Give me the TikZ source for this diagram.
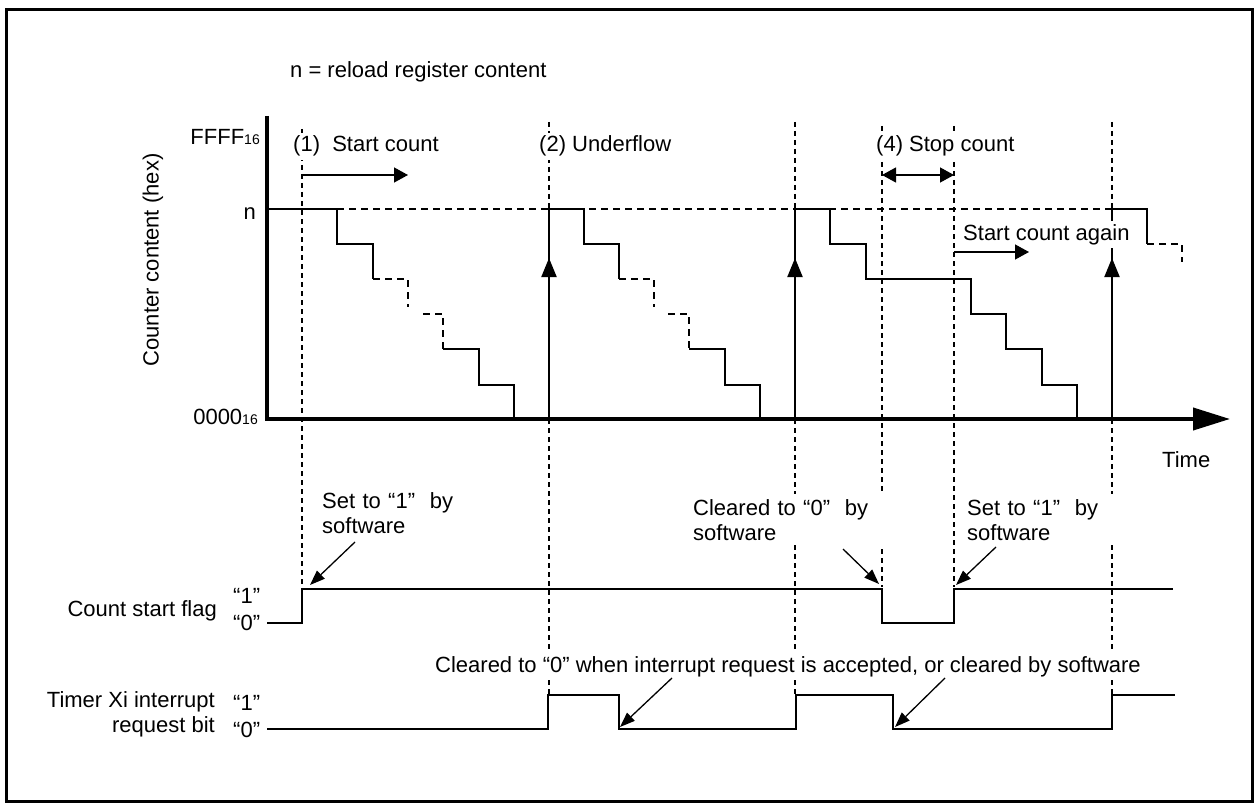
\documentclass[tikz,border=0pt]{standalone}
\usepackage{fontspec}
\setmainfont{Liberation Sans}
\usetikzlibrary{arrows.meta}

\newcommand{\hexsub}{{\fontsize{14}{14}\selectfont 16}}

\begin{document}
\begin{tikzpicture}[
    x=1pt, y=-1pt,
    font=\fontsize{22}{25}\selectfont,
    txt/.style={inner sep=0pt},
    label/.style={fill=white, inner xsep=1pt, inner ysep=3pt},
    note/.style={fill=white, align=left, inner xsep=2pt, inner ysep=5pt},
    guide/.style={line width=1.2pt, dash pattern=on 5pt off 4pt},
    wave/.style={line width=2pt},
    wavedash/.style={line width=2pt, dash pattern=on 7pt off 5pt},
    axis/.style={line width=4pt, -{Triangle[length=37pt,width=22pt]}},
    uparr/.style={line width=2pt, -{Triangle[length=19pt,width=15pt]}},
    spanarr/.style={line width=1.3pt, -{Triangle[length=14pt,width=15pt]}},
    callarr/.style={line width=1.3pt, -{Triangle[length=15pt,width=11pt]}},
]

% Frame
\useasboundingbox (0,0) rectangle (1257,805);
\draw[line width=3pt] (6,10) rectangle (1252,801);

% Event guides
\foreach \gx/\gt/\gb in {302/129/587, 549/122/695, 795/122/695, 882/126/587, 954/126/587, 1112/122/695}
    \draw[guide] (\gx,\gt) -- (\gx,\gb);

% Reload level
\draw[line width=1.3pt, dash pattern=on 7pt off 5pt] (337,209) -- (1112,209);

% Axes
\draw[axis] (267,116) -- (267,419) -- (1230,419);

% Count from n, first period
\draw[wave] (267,209) -- (337,209) -- (337,244) -- (373,244) -- (373,279);
\draw[wavedash] (373,279) -- (408,279) -- (408,307);
\draw[wavedash] (423,314) -- (443,314) -- (443,349);
\draw[wave] (443,349) -- (479,349) -- (479,385) -- (514,385) -- (514,419);

% Underflow -> reload, second period
\draw[uparr] (549,419) -- (549,258);
\draw[wave] (549,262) -- (549,209) -- (584,209) -- (584,244) -- (619,244) -- (619,279);
\draw[wavedash] (619,279) -- (654,279) -- (654,307);
\draw[wavedash] (668,314) -- (689,314) -- (689,349);
\draw[wave] (689,349) -- (725,349) -- (725,385) -- (760,385) -- (760,419);

% Underflow -> reload, stop and restart
\draw[uparr] (795,419) -- (795,258);
\draw[wave] (795,262) -- (795,209) -- (830,209) -- (830,244) -- (866,244) -- (866,279)
    -- (971,279) -- (971,314) -- (1006,314) -- (1006,349) -- (1042,349) -- (1042,385)
    -- (1077,385) -- (1077,419);

% Underflow -> reload, last period
\draw[uparr] (1112,419) -- (1112,258);
\draw[wave] (1112,262) -- (1112,209) -- (1147,209) -- (1147,244);
\draw[wavedash] (1147,244) -- (1182,244) -- (1182,262);

% Count start flag
\draw[wave] (267,623) -- (302,623) -- (302,589) -- (882,589) -- (882,623) -- (954,623)
    -- (954,589) -- (1173,589);

% Interrupt request bit
\draw[wave] (267,729) -- (548,729) -- (548,695) -- (619,695) -- (619,729) -- (796,729)
    -- (796,695) -- (893,695) -- (893,729) -- (1112,729) -- (1112,695) -- (1175,695);

% Axis labels
\node[txt, anchor=base west] (reload) at (290,78) {n = reload register content};
\node[txt, anchor=base east] (ffff) at (260,145) {FFFF\hexsub};
\node[txt, anchor=base east] (nlevel) at (256,219) {n};
\node[txt, anchor=base east] (zero) at (258,424) {0000\hexsub};
\node[txt, rotate=90] (ylab) at (153,260) {Counter content (hex)};
\node[txt, anchor=base west] (time) at (1162,467) {Time};

% Events
\node[label, anchor=base west] (start) at (292,152) {(1)\ \ Start count};
\node[label, anchor=base west] (uflow) at (538,152) {(2) Underflow};
\node[label, anchor=base west] (stop) at (875,152) {(4) Stop count};
\node[label, anchor=base west] (again) at (962,240) {Start count again};

\coordinate (run0) at (302,175);
\coordinate (run1) at (408,175);
\coordinate (halt0) at (882,175);
\coordinate (halt1) at (954,175);
\coordinate (rerun0) at (954,252);
\coordinate (rerun1) at (1029,252);
\draw[spanarr] (run0) -- (run1);
\draw[spanarr, {Triangle[length=14pt,width=15pt]}-{Triangle[length=14pt,width=15pt]}] (halt0) -- (halt1);
\draw[spanarr] (rerun0) -- (rerun1);

% Signal names
\node[txt, anchor=base east] (flagname) at (217,616) {Count start flag};
\node[txt, anchor=base west] (flag1) at (233,603) {“1”};
\node[txt, anchor=base west] (flag0) at (233,630) {“0”};
\node[txt, anchor=base east, align=right] (irqname) at (215,732) {Timer Xi interrupt\\request bit};
\node[txt, anchor=base west] (irq1) at (233,710) {“1”};
\node[txt, anchor=base west] (irq0) at (233,737) {“0”};

% Callouts
\node[note, text width=150pt, anchor=base west] (set1) at (320,508) {Set to “1”\ \ by\\software};
\node[note, text width=188pt, anchor=base west] (clr1) at (691,515) {Cleared to “0”\ \ by\\software};
\node[note, text width=146pt, anchor=base west] (set2) at (965,515) {Set to “1”\ \ by\\software};
\node[label, anchor=base west] (clrirq) at (434,672) {Cleared to “0” when interrupt request is accepted, or cleared by software};

\coordinate (set1tail) at (355,542);
\coordinate (set1tip) at (310,585);
\coordinate (clr1tail) at (843,549);
\coordinate (clr1tip) at (879,584);
\coordinate (set2tail) at (996,547);
\coordinate (set2tip) at (956,585);
\coordinate (irqtail1) at (672,678);
\coordinate (irqtip1) at (620,727);
\coordinate (irqtail2) at (945,678);
\coordinate (irqtip2) at (895,727);
\draw[callarr] (set1tail) -- (set1tip);
\draw[callarr] (clr1tail) -- (clr1tip);
\draw[callarr] (set2tail) -- (set2tip);
\draw[callarr] (irqtail1) -- (irqtip1);
\draw[callarr] (irqtail2) -- (irqtip2);

\end{tikzpicture}
\end{document}
